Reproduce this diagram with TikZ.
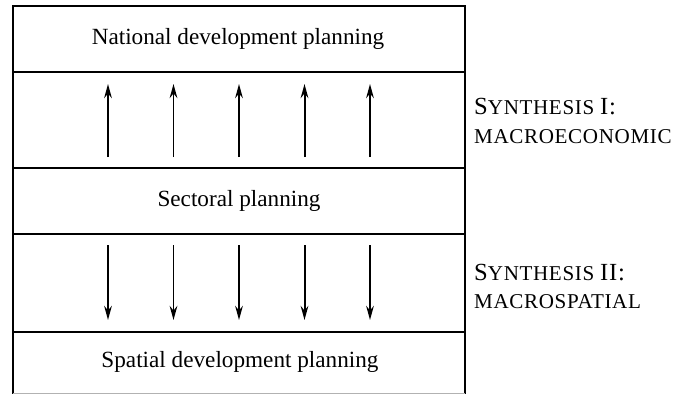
\documentclass[tikz,border=0pt]{standalone}
\usepackage{fontspec}
\setmainfont{Liberation Serif}
\newfontfamily\sidefont[LetterSpace=3]{Liberation Serif}
\usetikzlibrary{arrows.meta}

\tikzset{
  band/.style={font=\fontsize{19.8}{24}\selectfont},
  flow/.style={line width=1.7pt,-{Stealth[length=12pt,width=6.5pt]}},
  side/.style={anchor=base west,align=left,inner sep=0pt,font=\sidefont\fontsize{18}{20}\selectfont}
}
\newcommand{\tallcap}[1]{{\fontsize{21}{21}\selectfont #1}}

\begin{document}
\begin{tikzpicture}[x=0.03cm,y=-0.03cm]
  \useasboundingbox (0,0) rectangle (673,394);

  % frame and the dividing rules
  \draw[line width=2.4pt] (13,394) -- (13,6) -- (465,6) -- (465,394);
  \foreach \y in {72,168,234,332}
    \draw[line width=2.4pt] (13,\y) -- (465,\y);
  \draw[line width=0.8pt,gray!60] (13,393) -- (465,393);

  % planning levels
  \node[band] (national) at (238,39) {National development planning};
  \node[band] (sectoral) at (239,201) {Sectoral planning};
  \node[band] (spatial) at (240,362) {Spatial development planning};

  % up and down flows
  \foreach \x in {108,173.5,239,304.5,370} {
    \draw[flow] (\x,157) -- (\x,84);
    \draw[flow] (\x,245) -- (\x,320);
  }

  % syntheses
  \node[side] (synthA) at (474,115) {\tallcap{S}YNTHESIS \tallcap{I:}};
  \node[side] (macroA) at (474,143) {MACROECONOMIC};
  \node[side] (synthB) at (474,280) {\tallcap{S}YNTHESIS \tallcap{II:}};
  \node[side] (macroB) at (474,308) {MACROSPATIAL};
\end{tikzpicture}
\end{document}
